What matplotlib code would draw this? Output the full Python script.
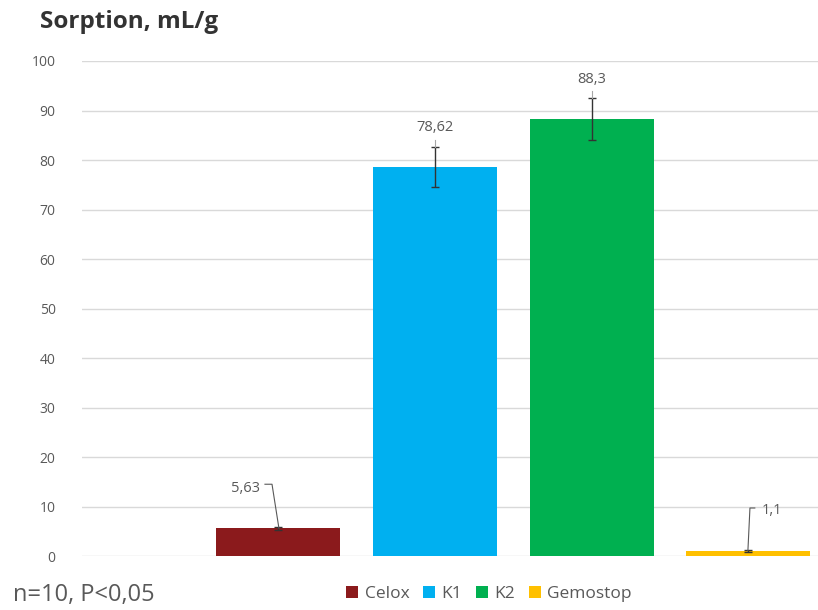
import matplotlib.pyplot as plt

plt.rcParams['font.family'] = ['Open Sans', 'DejaVu Sans']

names = ['Celox', 'K1', 'K2', 'Gemostop']
values = [5.63, 78.62, 88.3, 1.1]
errors = [0.3, 4.05, 4.25, 0.2]
labels = ['5,63', '78,62', '88,3', '1,1']
colors = ['#8B1A1C', '#00B0F0', '#00B050', '#FFC000']
pos = [1, 2, 3, 4]

fig = plt.figure(figsize=(8.18, 6.10), dpi=100)
ax = fig.add_axes([0.1002, 0.0885, 0.8998, 0.8115])

for p, v, e, c, n in zip(pos, values, errors, colors, names):
    ax.bar(p, v, width=0.79, color=c, label=n, zorder=2)
    ax.errorbar(p, v, yerr=e, fmt='none', ecolor='#333333', elinewidth=1,
                capsize=3, capthick=1, zorder=3)

ax.set_xlim(-0.25, 4.444)
ax.set_ylim(0, 100)
ax.set_yticks(range(0, 101, 10))
ax.yaxis.grid(True, color='#D9D9D9', linewidth=1, zorder=0)
ax.set_xticks([])
ax.tick_params(axis='y', length=0, pad=19, labelsize=10, labelcolor='#595959')
for s in ax.spines.values():
    s.set_visible(False)

gray = '#595959'
# K1, K2 labels above the error bars
for p, v, e, t in zip(pos[1:3], values[1:3], errors[1:3], labels[1:3]):
    ax.text(p, v + e + 3.8, t, ha='center', va='center', fontsize=10.5, color=gray)
    ax.plot([p, p], [v + e, v + e + 1.4], color='#A6A6A6', linewidth=0.8, zorder=3)

# Celox label with leader line
ax.text(0.79, 13.7, labels[0], ha='center', va='center', fontsize=10.5, color=gray)
ax.plot([0.917, 0.962, 1.006], [14.5, 14.5, values[0]], color=gray, linewidth=0.8, zorder=4)

# Gemostop label with leader line
ax.text(4.086, 9.1, labels[3], ha='left', va='center', fontsize=10.5, color=gray)
ax.plot([4.041, 4.01, 3.997], [9.7, 9.7, values[3]], color=gray, linewidth=0.8, zorder=4)

fig.text(0.049, 0.964, 'Sorption, mL/g', fontsize=17.5, fontweight='bold',
         color='#333333', ha='left', va='center')
fig.text(0.016, 0.024, 'n=10, P<0,05', fontsize=17, color=gray, ha='left', va='center')

leg = ax.legend(loc='center', bbox_to_anchor=(489 / 818, 16 / 610),
                bbox_transform=fig.transFigure, ncol=4, frameon=False,
                fontsize=12.5, handlelength=0.7, handleheight=0.7,
                handletextpad=0.35, columnspacing=0.8)
for t in leg.get_texts():
    t.set_color(gray)

fig.savefig('out.png', dpi=100)
